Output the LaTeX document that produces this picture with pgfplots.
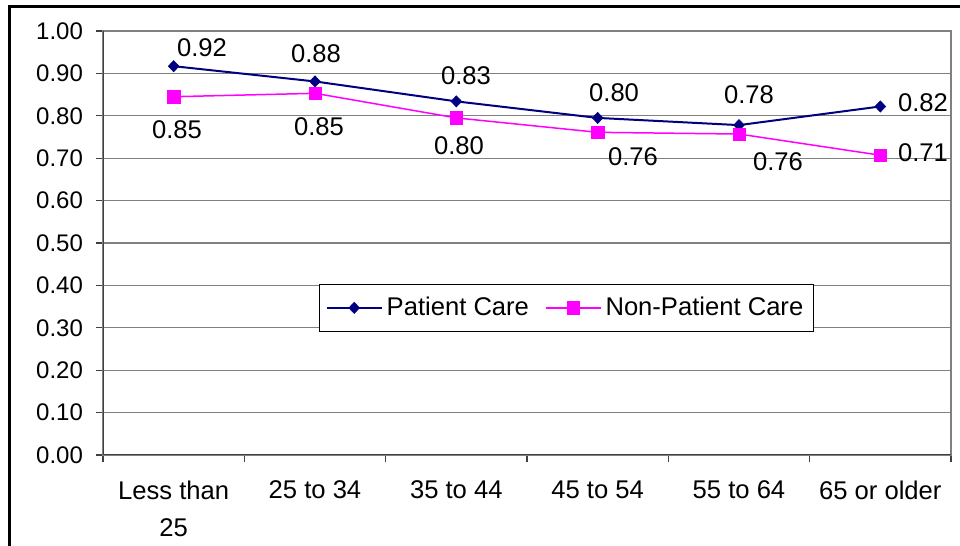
\documentclass[border=0pt]{standalone}
\usepackage{fontspec}
\setmainfont{Liberation Sans}
\usepackage{pgfplots}
\pgfplotsset{compat=1.18}
\definecolor{pc}{HTML}{000080}
\definecolor{npc}{HTML}{FF00FF}
\newcommand{\lbl}{\fontsize{12.8}{15}\selectfont}
\begin{document}
\begin{tikzpicture}
\useasboundingbox (0,0) rectangle (480pt,273pt);
\draw[line width=1.5pt] (4.5pt,-10pt) -- (4.5pt,269.5pt) -- (490pt,269.5pt);
\begin{axis}[
  at={(51.5pt,45.5pt)}, anchor=south west,
  scale only axis, width=424pt, height=212pt,
  xmin=-0.5, xmax=5.5, ymin=0, ymax=1,
  xtick={0,...,5},
  xticklabels={{Less than\\25},{25 to 34},{35 to 44},{45 to 54},{55 to 64},{65 or older}},
  minor xtick={-0.5,0.5,...,5.5},
  ytick={0,0.1,...,1.01},
  xtick pos=bottom, ytick pos=left,
  tick align=outside,
  major tick length=3.5pt, minor tick length=3.5pt,
  major x tick style={draw=none},
  minor x tick style={black!75, line width=0.6pt},
  major y tick style={black!75, line width=0.6pt},
  ymajorgrids, grid style={gray, line width=0.6pt},
  axis line style={gray, line width=0.7pt},
  xticklabel style={align=center, font=\fontsize{12.8}{18.5}\selectfont, yshift=-6pt},
  yticklabel style={font=\fontsize{12}{14}\selectfont, xshift=-3pt},
  /pgf/number format/.cd, fixed, fixed zerofill, precision=2, assume math mode=true,
  /pgfplots/.cd,
  legend style={at={(rel axis cs:0.5466,0.347)}, anchor=center, draw=black, line width=0.5pt,
    font=\lbl, legend columns=2, inner xsep=3pt, inner ysep=4.5pt,
    /tikz/every even column/.append style={column sep=6pt}},
  legend image code/.code={\draw[mark repeat=2,mark phase=2] plot coordinates {(0pt,0pt)(13.75pt,0pt)(27.5pt,0pt)};},
]
\addplot[pc, line width=1pt, mark=diamond*, mark size=2.8pt, mark options={line width=0.3pt, xscale=1.27}]
  coordinates {(0,0.917)(1,0.881)(2,0.834)(3,0.795)(4,0.778)(5,0.822)};
\addlegendentry{Patient Care}
\addplot[npc, line width=0.75pt, mark=square*, mark size=3.1pt, mark options={line width=0.3pt}]
  coordinates {(0,0.845)(1,0.853)(2,0.795)(3,0.761)(4,0.757)(5,0.707)};
\addlegendentry{Non-Patient Care}
\draw[black!75, line width=1pt] (rel axis cs:0,1) -- (rel axis cs:0,0) -- (rel axis cs:1,0);
% data labels
\begin{scope}[every node/.style={font=\lbl, inner sep=0pt, anchor=center}]
\node at (axis cs:0.2005,0.960) {0.92};
\node at (axis cs:1.007,0.946) {0.88};
\node at (axis cs:2.068,0.894) {0.83};
\node at (axis cs:3.116,0.854) {0.80};
\node at (axis cs:4.071,0.849) {0.78};
\node at (axis cs:5.302,0.830) {0.82};
\node at (axis cs:0.0236,0.7665) {0.85};
\node at (axis cs:1.028,0.774) {0.85};
\node at (axis cs:2.019,0.729) {0.80};
\node at (axis cs:3.250,0.703) {0.76};
\node at (axis cs:4.276,0.691) {0.76};
\node at (axis cs:5.302,0.712) {0.71};
\end{scope}
\end{axis}
\end{tikzpicture}
\end{document}
